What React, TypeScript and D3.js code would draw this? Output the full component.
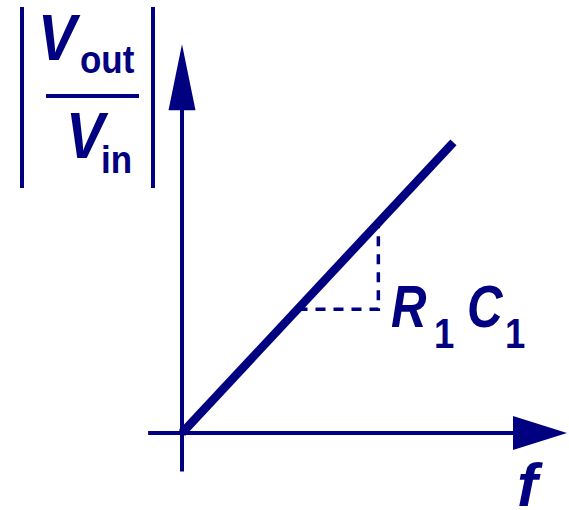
import React from "react";
import * as d3 from "d3";

const W = 569;
const H = 510;
const COLOR = "#000080";

// schematic data (in plot units)
const xAxisExtent = [-0.88, 10];
const yAxisExtent = [-1.0, 10.1];
const responseLine: [number, number][] = [
  [0, 0],
  [7.05, 7.55],
];
const slopeFrom = 3.0; // x where dashed horizontal starts (on line)
const slopeTo = 5.1; // x where dashed vertical goes up to line
const slope = 7.55 / 7.05;

const x = d3.scaleLinear().domain([0, 10]).range([182, 567]);
const y = d3.scaleLinear().domain([0, 10]).range([433, 48]);

const font = "'Liberation Sans', Arial, sans-serif";

function T({
  px,
  py,
  size,
  italic,
  sx = 1,
  children,
}: {
  px: number;
  py: number;
  size: number;
  italic?: boolean;
  sx?: number;
  children: React.ReactNode;
}) {
  return (
    <text
      transform={`translate(${px},${py}) scale(${sx},1)`}
      fontSize={size}
      fontStyle={italic ? "italic" : "normal"}
    >
      {children}
    </text>
  );
}

export default function App() {
  const lineGen = d3
    .line<[number, number]>()
    .x((d) => x(d[0]))
    .y((d) => y(d[1]));

  const yLow = slopeFrom * slope;
  const yHigh = slopeTo * slope;
  const dashed: [number, number][] = [
    [slopeFrom, yLow],
    [slopeTo, yLow],
    [slopeTo, yHigh],
  ];

  const xEnd = x(xAxisExtent[1]);
  const yEnd = y(yAxisExtent[1]);

  return (
    <svg width={W} height={H} style={{ position: "absolute", left: 0, top: 0 }}>
      <rect width={W} height={H} fill="#fff" />
      {/* axes */}
      <line x1={x(xAxisExtent[0])} x2={xEnd - 40} y1={y(0)} y2={y(0)} stroke={COLOR} strokeWidth={4} />
      <line x1={x(0)} x2={x(0)} y1={y(yAxisExtent[0])} y2={yEnd + 50} stroke={COLOR} strokeWidth={4} />
      <path d={`M${xEnd},${y(0)} L${xEnd - 54},${y(0) - 17} L${xEnd - 54},${y(0) + 17} Z`} fill={COLOR} />
      <path d={`M${x(0)},${yEnd} L${x(0) - 13.5},${yEnd + 66} L${x(0) + 13.5},${yEnd + 66} Z`} fill={COLOR} />
      {/* dashed slope triangle */}
      <path d={lineGen(dashed) || ""} fill="none" stroke={COLOR} strokeWidth={3.5} strokeDasharray="10 8" />
      {/* response line */}
      <path d={lineGen(responseLine) || ""} fill="none" stroke={COLOR} strokeWidth={8.5} />
      {/* y label */}
      <line x1={22} x2={22} y1={7} y2={188} stroke={COLOR} strokeWidth={4} />
      <line x1={153} x2={153} y1={7} y2={188} stroke={COLOR} strokeWidth={4} />
      <line x1={46} x2={139} y1={96} y2={96} stroke={COLOR} strokeWidth={4} />
      <g fill={COLOR} fontFamily={font} fontWeight="bold">
        <T px={38} py={60} size={64} italic sx={0.9}>V</T>
        <T px={80} py={73} size={38} sx={0.92}>out</T>
        <T px={66} py={158} size={64} italic sx={0.9}>V</T>
        <T px={101} py={173} size={38} sx={0.92}>in</T>
        <T px={391} py={327} size={60} italic sx={0.82}>R</T>
        <T px={434} py={348} size={43} sx={0.85}>1</T>
        <T px={467} py={327} size={60} italic sx={0.82}>C</T>
        <T px={505} py={348} size={43} sx={0.85}>1</T>
        <T px={517} py={506} size={62} italic>f</T>
      </g>
    </svg>
  );
}
